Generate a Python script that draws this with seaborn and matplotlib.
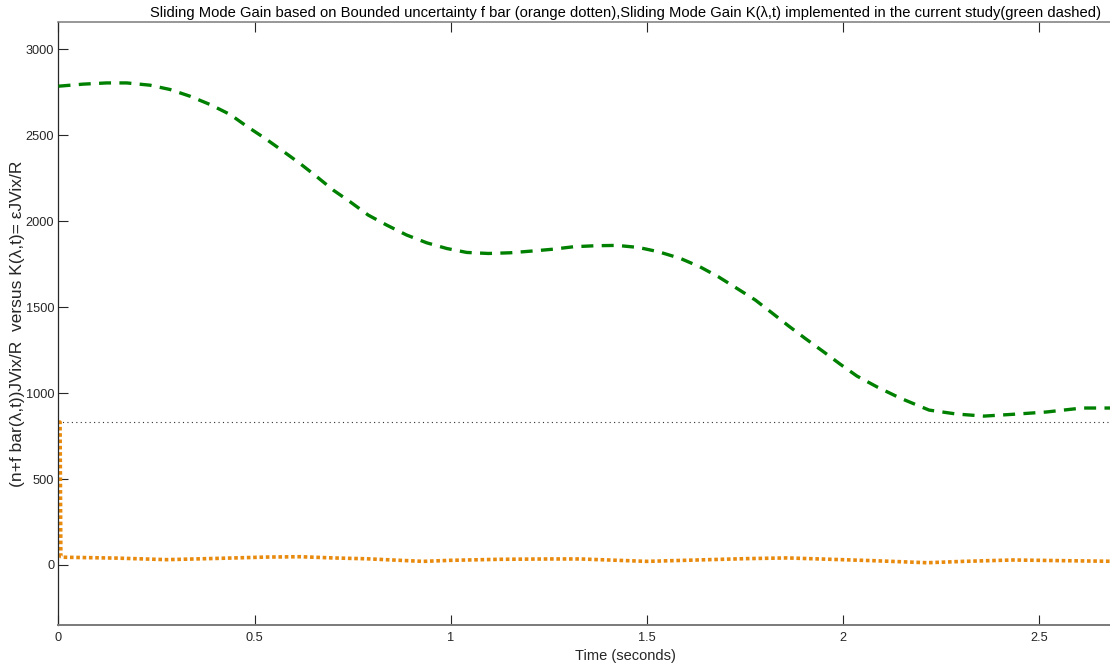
import matplotlib
matplotlib.use("Agg")
import matplotlib.pyplot as plt
import seaborn as sns
import pandas as pd

# Sliding mode gain K(lambda, t) implemented in the study
k_time = [0.0, 0.063, 0.123, 0.174, 0.233, 0.284, 0.335, 0.387, 0.438, 0.48,
          0.527, 0.569, 0.616, 0.659, 0.701, 0.744, 0.79, 0.837, 0.888, 0.939,
          0.99, 1.041, 1.096, 1.152, 1.207, 1.262, 1.313, 1.369, 1.424, 1.479,
          1.53, 1.586, 1.636, 1.683, 1.73, 1.777, 1.819, 1.862, 1.904, 1.951,
          1.994, 2.036, 2.088, 2.146, 2.22, 2.29, 2.36, 2.445, 2.52, 2.61, 2.7]
k_gain = [2785, 2797, 2804, 2804, 2791, 2766, 2727, 2678, 2620, 2552,
          2481, 2413, 2335, 2258, 2180, 2112, 2035, 1977, 1919, 1874,
          1841, 1818, 1812, 1816, 1826, 1837, 1851, 1857, 1859, 1847,
          1822, 1783, 1734, 1676, 1609, 1541, 1467, 1390, 1318, 1240,
          1167, 1099, 1035, 971, 901, 878, 866, 878, 890, 913, 913]

# Gain from the bounded uncertainty f bar
f_time = [0.0, 0.004, 0.006, 0.012, 0.148, 0.276, 0.40, 0.53, 0.616, 0.70,
          0.786, 0.871, 0.93, 0.999, 1.126, 1.254, 1.33, 1.50, 1.628, 1.756,
          1.858, 1.968, 2.078, 2.215, 2.308, 2.435, 2.563, 2.7]
f_gain = [831, 831, 48, 45, 40, 31, 38, 46, 48, 41,
          36, 27, 21, 27, 33, 35, 35, 21, 29, 37,
          41, 33, 25, 13, 21, 29, 25, 21]

bound_level = 831

y_ticks = [0, 500, 1000, 1500, 2000, 2500, 3000]
x_ticks = [0, 0.5, 1, 1.5, 2, 2.5]
x_tick_labels = ["0", "0.5", "1", "1.5", "2", "2.5"]

sns.set_style("white")
plt.rcParams["font.family"] = ["Liberation Sans", "DejaVu Sans"]

fig = plt.figure(figsize=(11.1, 6.66), dpi=100)
ax = fig.add_axes([0.0527, 0.0616, 1.021, 0.905])

k_df = pd.DataFrame({"t": k_time, "K": k_gain})
f_df = pd.DataFrame({"t": f_time, "F": f_gain})

ax.axhline(bound_level, color="#333333", lw=0.8, ls=(0, (1, 3)), zorder=1)
sns.lineplot(data=f_df, x="t", y="F", ax=ax, estimator=None, sort=False,
             color="#E88A0E", lw=2.6, zorder=2)
ax.lines[-1].set_dashes([1.0, 0.75])
sns.lineplot(data=k_df, x="t", y="K", ax=ax, estimator=None, sort=False,
             color="#008000", lw=2.4, zorder=3)
ax.lines[-1].set_dashes([3.6, 2.5])

ax.set_xlim(0, 2.89)
ax.set_ylim(-349, 3157)
ax.set_xticks(x_ticks)
ax.set_xticklabels(x_tick_labels)
ax.set_yticks(y_ticks)

ax.tick_params(direction="in", length=7, width=0.8, colors="#262626",
               labelsize=9.2, top=True, right=True, bottom=True, left=True)
ax.tick_params(axis="x", pad=5)
ax.tick_params(axis="y", pad=3)
for name, s in ax.spines.items():
    s.set_color("#262626")
    s.set_linewidth(0.9)
ax.spines["bottom"].set_color("#7a7a7a")
ax.spines["bottom"].set_linewidth(1.4)
ax.spines["top"].set_color("#7a7a7a")
ax.spines["top"].set_linewidth(1.1)

ax.set_title("Sliding Mode Gain based on Bounded uncertainty f bar (orange dotten),"
             "Sliding Mode Gain K(λ,t) implemented in the current study(green dashed)",
             fontsize=10.65, color="#000000", pad=4)
ax.set_xlabel("Time (seconds)", fontsize=10.5, color="#262626", labelpad=4)
ax.set_ylabel("(n+f bar(λ,t))JVix/R  versus K(λ,t)= εJVix/R", fontsize=12.5,
              color="#262626", labelpad=0.5)

fig.savefig("out.png", dpi=100)
